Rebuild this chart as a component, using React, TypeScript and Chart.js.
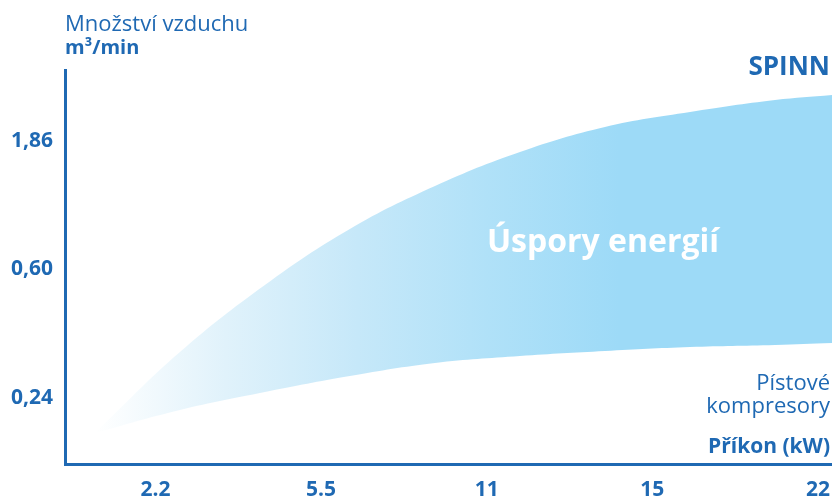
import React, { useEffect, useRef } from "react";
import { Chart, registerables } from "chart.js";

Chart.register(...registerables);

const xCategories = ["2.2", "5.5", "11", "15", "22"];
const yTickLabels = ["0,24", "0,60", "1,86"];

// positions in axis units (x: category index, y: tick index)
const curveX = [-0.365, 0.148, 0.661, 1.174, 1.688, 2.201, 2.714, 3.228, 3.741, 4.085];
const spinnY = [-0.267, 0.36, 0.88, 1.314, 1.647, 1.911, 2.105, 2.221, 2.314, 2.353];
const pistonY = [-0.267, -0.089, 0.05, 0.174, 0.275, 0.329, 0.368, 0.399, 0.415, 0.43];

const BLUE = "#1f69b3";
const FONT = "'Open Sans', 'Noto Sans', sans-serif";

const textPlugin = {
  id: "texts",
  afterDraw(chart: any) {
    const c = chart.ctx;
    c.save();
    c.fillStyle = BLUE;
    c.textBaseline = "alphabetic";
    c.textAlign = "left";
    c.font = `400 22px ${FONT}`;
    c.fillText("Množství vzduchu", 65, 31);
    c.font = `700 20px ${FONT}`;
    c.fillText("m³/min", 65, 54);
    c.textAlign = "right";
    c.font = `700 26px ${FONT}`;
    c.fillText("SPINN", 830, 75);
    c.font = `400 22px ${FONT}`;
    c.fillText("Pístové", 830, 390);
    c.fillText("kompresory", 830, 413);
    c.font = `700 21px ${FONT}`;
    c.fillText("Příkon (kW)", 830, 453);
    c.textAlign = "center";
    c.fillStyle = "#ffffff";
    c.font = `700 32px ${FONT}`;
    c.fillText("Úspory energií", 603, 252);
    c.restore();
  },
};

export default function App() {
  const ref = useRef<HTMLCanvasElement | null>(null);
  useEffect(() => {
    if (!ref.current) return;
    const chart = new Chart(ref.current, {
      type: "line",
      data: {
        datasets: [
          {
            label: "Pístové kompresory",
            data: curveX.map((x, i) => ({ x, y: pistonY[i] })),
            borderWidth: 0,
            pointRadius: 0,
            fill: false,
            tension: 0.4,
          },
          {
            label: "SPINN",
            data: curveX.map((x, i) => ({ x, y: spinnY[i] })),
            borderWidth: 0,
            pointRadius: 0,
            fill: "-1",
            tension: 0.4,
            backgroundColor: (ctx: any) => {
              const ch = ctx.chart;
              const area = ch.chartArea;
              if (!area) return "#9ddaf7";
              const x0 = ch.scales.x.getPixelForValue(curveX[0]);
              const x1 = ch.scales.x.getPixelForValue(2.8);
              const g = ch.ctx.createLinearGradient(x0, 0, x1, 0);
              g.addColorStop(0, "#ffffff");
              g.addColorStop(0.25, "#e0f2fb");
              g.addColorStop(0.5, "#c6e8f9");
              g.addColorStop(0.75, "#b0e1f8");
              g.addColorStop(1, "#9ddaf7");
              return g;
            },
          },
        ],
      },
      options: {
        animation: false,
        responsive: false,
        layout: { padding: { top: 70, right: 0, left: 0, bottom: 0 } },
        plugins: { legend: { display: false }, tooltip: { enabled: false } },
        scales: {
          x: {
            type: "linear",
            min: -0.546,
            max: 4.085,
            grid: { display: false, drawTicks: true, tickLength: 13 },
            border: { color: BLUE, width: 3 },
            afterBuildTicks: (axis: any) => {
              axis.ticks = xCategories.map((_, i) => ({ value: i }));
            },
            afterFit: (axis: any) => {
              axis.height = 31.5;
            },
            ticks: {
              padding: 0,
              color: BLUE,
              font: { family: FONT, size: 21, weight: "bold" },
              callback: (v: any) => xCategories[Math.round(v)] ?? "",
              maxRotation: 0,
              autoSkip: false,
            },
          },
          y: {
            type: "linear",
            min: -0.512,
            max: 2.547,
            grid: { display: false, drawTicks: false },
            border: { color: BLUE, width: 3 },
            afterBuildTicks: (axis: any) => {
              axis.ticks = yTickLabels.map((_, i) => ({ value: i }));
            },
            afterFit: (axis: any) => {
              axis.width = 65;
            },
            ticks: {
              padding: 12,
              color: BLUE,
              font: { family: FONT, size: 21, weight: "bold" },
              callback: (v: any) => yTickLabels[Math.round(v)] ?? "",
            },
          },
        },
      },
      plugins: [textPlugin],
    } as any);
    return () => chart.destroy();
  }, []);
  return (
    <canvas
      ref={ref}
      width={832}
      height={496}
      style={{ position: "absolute", left: 0, top: 0, display: "block" }}
    />
  );
}
